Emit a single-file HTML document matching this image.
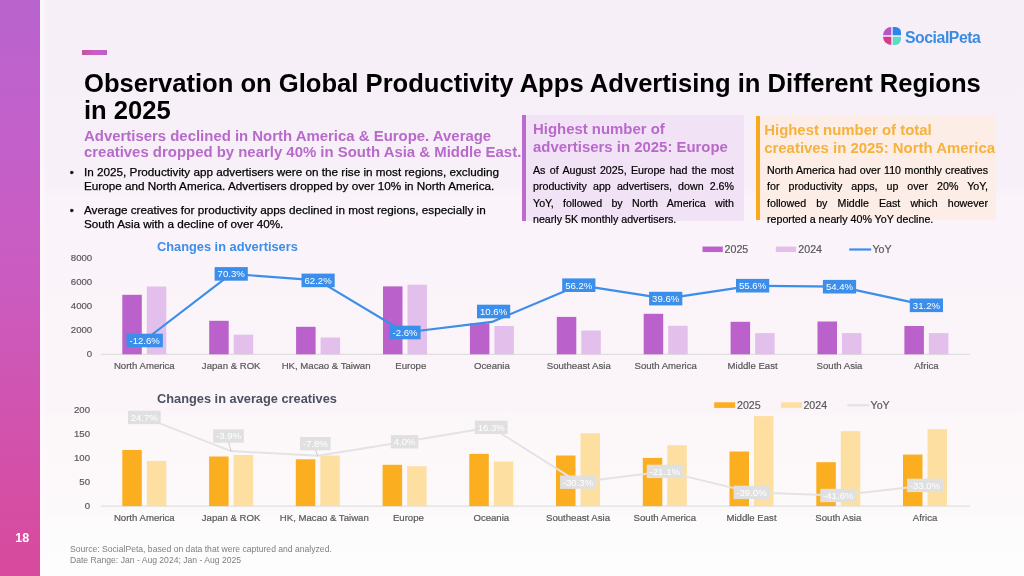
<!DOCTYPE html>
<html><head><meta charset="utf-8"><style>
*{margin:0;padding:0;box-sizing:border-box}
html,body{width:1024px;height:576px;overflow:hidden}
body{position:relative;font-family:"Liberation Sans",sans-serif;background:linear-gradient(180deg,#F6EFF7 0px,#F7F0F8 186px,#FAF3F9 196px,#FBF5F9 410px,#FCF8FA 424px,#FCF9FA 514px,#FDFCFC 526px,#FDFDFD 576px);}
.abs{position:absolute}
#side{left:0;top:0;width:40px;height:576px;background:linear-gradient(180deg,#B963CD 0%,#C261CB 20%,#CB5BC0 50%,#D153AE 72%,#D84A9C 100%)}
#strip{left:40px;top:0;width:7px;height:576px;background:linear-gradient(90deg,rgba(255,250,255,0.9),rgba(255,250,255,0))}
#pg{left:2.2px;width:40px;top:529.6px;text-align:center;color:#fff;font-weight:bold;font-size:12.5px;line-height:17px}
#accent{left:82.2px;top:49.7px;width:25.2px;height:5.2px;background:linear-gradient(90deg,#C6539F,#CC5AC6 50%,#BD5FC6)}
#title{left:84px;top:69.8px;width:920px;font-weight:bold;font-size:25.6px;line-height:27.5px;color:#000}
#sub{left:84px;top:128px;width:450px;font-weight:bold;font-size:14.93px;line-height:16px;color:#B86ACB}
.bul{-webkit-text-stroke:0.25px #000;left:84px;width:420px;font-size:11.73px;line-height:14.2px;color:#000}
.dot{position:absolute;left:-14.3px;top:0.2px}
.box{position:absolute}
.bt{font-weight:bold;font-size:14.93px;line-height:18px}
.bb{-webkit-text-stroke:0.2px #000;font-size:10.67px;line-height:16.4px;text-align:justify;color:#000}
#src{left:70px;top:544px;font-size:8.6px;line-height:10.5px;color:#7F7F7F}
svg text{font-family:"Liberation Sans",sans-serif}
.ax{font-size:9.6px;fill:#595959;stroke:#595959;stroke-width:0.2px}
.dl{font-size:9.6px;fill:#fff}
.lg{font-size:10.67px;fill:#595959;stroke:#595959;stroke-width:0.2px}
.ct{font-size:12.8px;font-weight:bold}
</style></head><body>
<div id="wrap" style="position:absolute;left:0;top:0;width:1024px;height:576px;will-change:transform">
<div id="side" class="abs"></div>
<div id="strip" class="abs"></div>
<div id="pg" class="abs">18</div>
<div id="accent" class="abs"></div>
<div class="abs" style="left:883px;top:27px;width:100px;height:20px">
<svg width="18" height="18" viewBox="0 0 18 18" style="position:absolute;left:0.2px;top:0.2px">
<path d="M8.3 0 A8.3 8.3 0 0 0 0 8.3 L8.3 8.3 Z" fill="#B656CB"/>
<path d="M9.7 0 L12.6 0 A5.4 5.4 0 0 1 18 5.4 L18 8.3 L9.7 8.3 Z" fill="#2F84EA"/>
<path d="M0 9.7 A8.3 8.3 0 0 0 8.3 18 L8.3 9.7 Z" fill="#D63D87"/>
<path d="M9.7 9.7 L18 9.7 L18 12.2 A5.8 5.8 0 0 1 12.2 18 L9.7 18 Z" fill="#5ADCC6"/>
</svg>
<div style="position:absolute;left:22px;top:0;font-weight:bold;font-size:15.8px;line-height:21px;color:#3C8BE3;letter-spacing:-0.45px">SocialPeta</div>
</div>
<div id="title" class="abs">Observation on Global Productivity Apps Advertising in Different Regions in 2025</div>
<div id="sub" class="abs">Advertisers declined in North America &amp; Europe. Average creatives dropped by nearly 40% in South Asia &amp; Middle East.</div>
<div class="abs bul" style="top:164.6px"><span class="dot">•</span>In 2025, Productivity app advertisers were on the rise in most regions, excluding Europe and North America. Advertisers dropped by over 10% in North America.</div>
<div class="abs bul" style="top:203px"><span class="dot">•</span>Average creatives for productivity apps declined in most regions, especially in South Asia with a decline of over 40%.</div>

<div class="box" style="left:522px;top:115px;width:222px;height:105.5px;background:#F2E2F5;border-left:4px solid #BB6ACE"></div>
<div class="box" style="left:533px;top:120px;width:201px">
<div class="bt" style="color:#B86ACB">Highest number of advertisers in 2025: Europe</div>
<div class="bb" style="margin-top:6px">As of August 2025, Europe had the most productivity app advertisers, down 2.6% YoY, followed by North America with nearly 5K monthly advertisers.</div>
</div>

<div class="box" style="left:756px;top:115.5px;width:240px;height:104px;background:#FCEDE6;border-left:4px solid #F9A91C"></div>
<div class="box" style="left:767px;top:121px;width:221px">
<div class="bt" style="color:#F6B23C;white-space:nowrap;margin-left:-2.8px">Highest number of total<br>creatives in 2025: North America</div>
<div class="bb" style="margin-top:5px">North America had over 110 monthly creatives for productivity apps, up over 20% YoY, followed by Middle East which however reported a nearly 40% YoY decline.</div>
</div>

<svg class="abs" style="left:0;top:0" width="1024" height="576" viewBox="0 0 1024 576">
<line x1="100.8" y1="354.3" x2="970" y2="354.3" stroke="#D9D9D9" stroke-width="1"/>
<line x1="100.8" y1="506.1" x2="970" y2="506.1" stroke="#D9D9D9" stroke-width="1"/>
<text x="92.2" y="357.3" class="ax" text-anchor="end">0</text>
<text x="92.2" y="333.3" class="ax" text-anchor="end">2000</text>
<text x="92.2" y="309.3" class="ax" text-anchor="end">4000</text>
<text x="92.2" y="285.3" class="ax" text-anchor="end">6000</text>
<text x="92.2" y="261.3" class="ax" text-anchor="end">8000</text>
<text x="90" y="509.1" class="ax" text-anchor="end">0</text>
<text x="90" y="485.1" class="ax" text-anchor="end">50</text>
<text x="90" y="461.1" class="ax" text-anchor="end">100</text>
<text x="90" y="437.1" class="ax" text-anchor="end">150</text>
<text x="90" y="413.1" class="ax" text-anchor="end">200</text>
<rect x="122.3" y="294.8" width="19.5" height="59.5" fill="#BA61CC"/>
<rect x="146.8" y="286.5" width="19.5" height="67.8" fill="#E3BFEB"/>
<rect x="122.3" y="450.0" width="19.5" height="56.1" fill="#FBAE1F"/>
<rect x="146.8" y="460.9" width="19.5" height="45.2" fill="#FDDFA2"/>
<text x="144.3" y="369.2" class="ax" text-anchor="middle">North America</text>
<text x="144.3" y="520.8" class="ax" text-anchor="middle">North America</text>
<rect x="209.2" y="320.8" width="19.5" height="33.5" fill="#BA61CC"/>
<rect x="233.7" y="334.7" width="19.5" height="19.6" fill="#E3BFEB"/>
<rect x="209.1" y="456.5" width="19.5" height="49.6" fill="#FBAE1F"/>
<rect x="233.6" y="455.0" width="19.5" height="51.1" fill="#FDDFA2"/>
<text x="231.2" y="369.2" class="ax" text-anchor="middle">Japan &amp; ROK</text>
<text x="231.1" y="520.8" class="ax" text-anchor="middle">Japan &amp; ROK</text>
<rect x="296.1" y="326.8" width="19.5" height="27.5" fill="#BA61CC"/>
<rect x="320.6" y="337.5" width="19.5" height="16.8" fill="#E3BFEB"/>
<rect x="295.8" y="459.3" width="19.5" height="46.8" fill="#FBAE1F"/>
<rect x="320.3" y="455.5" width="19.5" height="50.6" fill="#FDDFA2"/>
<text x="326.1" y="369.2" class="ax" text-anchor="middle">HK, Macao &amp; Taiwan</text>
<text x="324.3" y="520.8" class="ax" text-anchor="middle">HK, Macao &amp; Taiwan</text>
<rect x="383.0" y="286.4" width="19.5" height="67.9" fill="#BA61CC"/>
<rect x="407.5" y="284.7" width="19.5" height="69.6" fill="#E3BFEB"/>
<rect x="382.6" y="464.8" width="19.5" height="41.3" fill="#FBAE1F"/>
<rect x="407.1" y="466.2" width="19.5" height="39.9" fill="#FDDFA2"/>
<text x="410.8" y="369.2" class="ax" text-anchor="middle">Europe</text>
<text x="408.4" y="520.8" class="ax" text-anchor="middle">Europe</text>
<rect x="469.9" y="323.3" width="19.5" height="31.0" fill="#BA61CC"/>
<rect x="494.4" y="326.0" width="19.5" height="28.3" fill="#E3BFEB"/>
<rect x="469.3" y="453.9" width="19.5" height="52.2" fill="#FBAE1F"/>
<rect x="493.8" y="461.5" width="19.5" height="44.6" fill="#FDDFA2"/>
<text x="491.9" y="369.2" class="ax" text-anchor="middle">Oceania</text>
<text x="491.3" y="520.8" class="ax" text-anchor="middle">Oceania</text>
<rect x="556.8" y="316.9" width="19.5" height="37.4" fill="#BA61CC"/>
<rect x="581.3" y="330.5" width="19.5" height="23.8" fill="#E3BFEB"/>
<rect x="556.0" y="455.5" width="19.5" height="50.6" fill="#FBAE1F"/>
<rect x="580.5" y="433.3" width="19.5" height="72.8" fill="#FDDFA2"/>
<text x="578.8" y="369.2" class="ax" text-anchor="middle">Southeast Asia</text>
<text x="578.0" y="520.8" class="ax" text-anchor="middle">Southeast Asia</text>
<rect x="643.7" y="313.8" width="19.5" height="40.5" fill="#BA61CC"/>
<rect x="668.2" y="325.8" width="19.5" height="28.5" fill="#E3BFEB"/>
<rect x="642.8" y="457.9" width="19.5" height="48.2" fill="#FBAE1F"/>
<rect x="667.3" y="445.2" width="19.5" height="60.9" fill="#FDDFA2"/>
<text x="665.7" y="369.2" class="ax" text-anchor="middle">South America</text>
<text x="664.8" y="520.8" class="ax" text-anchor="middle">South America</text>
<rect x="730.6" y="321.8" width="19.5" height="32.5" fill="#BA61CC"/>
<rect x="755.1" y="333.1" width="19.5" height="21.2" fill="#E3BFEB"/>
<rect x="729.5" y="451.5" width="19.5" height="54.6" fill="#FBAE1F"/>
<rect x="754.0" y="416.1" width="19.5" height="90.0" fill="#FDDFA2"/>
<text x="752.6" y="369.2" class="ax" text-anchor="middle">Middle East</text>
<text x="751.5" y="520.8" class="ax" text-anchor="middle">Middle East</text>
<rect x="817.5" y="321.5" width="19.5" height="32.8" fill="#BA61CC"/>
<rect x="842.0" y="333.1" width="19.5" height="21.2" fill="#E3BFEB"/>
<rect x="816.3" y="462.2" width="19.5" height="43.9" fill="#FBAE1F"/>
<rect x="840.8" y="431.1" width="19.5" height="75.0" fill="#FDDFA2"/>
<text x="839.5" y="369.2" class="ax" text-anchor="middle">South Asia</text>
<text x="838.3" y="520.8" class="ax" text-anchor="middle">South Asia</text>
<rect x="904.4" y="326.0" width="19.5" height="28.3" fill="#BA61CC"/>
<rect x="928.9" y="333.1" width="19.5" height="21.2" fill="#E3BFEB"/>
<rect x="903.0" y="454.6" width="19.5" height="51.5" fill="#FBAE1F"/>
<rect x="927.5" y="429.1" width="19.5" height="77.0" fill="#FDDFA2"/>
<text x="926.4" y="369.2" class="ax" text-anchor="middle">Africa</text>
<text x="925.0" y="520.8" class="ax" text-anchor="middle">Africa</text>
<polyline points="144.3,417.4 231.1,451.1 317.8,455.7 404.6,441.8 491.3,427.3 578.0,482.2 664.8,471.4 751.5,492.4 838.3,495.5 925.0,485.4" fill="none" stroke="#E3E3E3" stroke-width="2" stroke-linejoin="round"/>
<polyline points="144.3,340.5 231.2,273.9 318.1,280.4 405.0,332.5 491.9,321.9 578.8,285.2 665.7,298.6 752.6,285.7 839.5,286.7 926.4,305.3" fill="none" stroke="#3B8EEA" stroke-width="2.2" stroke-linejoin="round"/>
<rect x="126.5" y="333.7" width="36.4" height="13.6" fill="#3B8EEA"/>
<text x="144.7" y="343.9" class="dl" text-anchor="middle">-12.6%</text>
<rect x="214.6" y="267.1" width="33.2" height="13.6" fill="#3B8EEA"/>
<text x="231.2" y="277.3" class="dl" text-anchor="middle">70.3%</text>
<rect x="301.5" y="273.6" width="33.2" height="13.6" fill="#3B8EEA"/>
<text x="318.1" y="283.8" class="dl" text-anchor="middle">62.2%</text>
<rect x="389.5" y="325.7" width="31.1" height="13.6" fill="#3B8EEA"/>
<text x="405.0" y="335.9" class="dl" text-anchor="middle">-2.6%</text>
<rect x="477.0" y="304.7" width="33.2" height="13.6" fill="#3B8EEA"/>
<text x="493.6" y="314.9" class="dl" text-anchor="middle">10.6%</text>
<rect x="562.2" y="278.4" width="33.2" height="13.6" fill="#3B8EEA"/>
<text x="578.8" y="288.6" class="dl" text-anchor="middle">56.2%</text>
<rect x="649.1" y="291.8" width="33.2" height="13.6" fill="#3B8EEA"/>
<text x="665.7" y="302.0" class="dl" text-anchor="middle">39.6%</text>
<rect x="736.0" y="278.9" width="33.2" height="13.6" fill="#3B8EEA"/>
<text x="752.6" y="289.1" class="dl" text-anchor="middle">55.6%</text>
<rect x="822.9" y="279.9" width="33.2" height="13.6" fill="#3B8EEA"/>
<text x="839.5" y="290.1" class="dl" text-anchor="middle">54.4%</text>
<rect x="909.8" y="298.5" width="33.2" height="13.6" fill="#3B8EEA"/>
<text x="926.4" y="308.7" class="dl" text-anchor="middle">31.2%</text>
<rect x="128.0" y="410.7" width="32.7" height="13.4" fill="#E0E0E0"/>
<text x="144.3" y="420.8" class="dl" text-anchor="middle">24.7%</text>
<line x1="228.5" y1="442.0" x2="231.1" y2="451.1" stroke="#BFBFBF" stroke-width="0.8"/>
<rect x="213.2" y="429.3" width="30.6" height="13.4" fill="#E0E0E0"/>
<text x="228.5" y="439.4" class="dl" text-anchor="middle">-3.9%</text>
<line x1="315.3" y1="449.7" x2="317.8" y2="455.7" stroke="#BFBFBF" stroke-width="0.8"/>
<rect x="300.0" y="437.0" width="30.6" height="13.4" fill="#E0E0E0"/>
<text x="315.3" y="447.1" class="dl" text-anchor="middle">-7.8%</text>
<rect x="390.9" y="435.1" width="27.4" height="13.4" fill="#E0E0E0"/>
<text x="404.6" y="445.2" class="dl" text-anchor="middle">4.0%</text>
<rect x="474.9" y="420.6" width="32.7" height="13.4" fill="#E0E0E0"/>
<text x="491.3" y="430.7" class="dl" text-anchor="middle">16.3%</text>
<rect x="560.1" y="475.5" width="35.9" height="13.4" fill="#E0E0E0"/>
<text x="578.0" y="485.6" class="dl" text-anchor="middle">-30.3%</text>
<rect x="646.8" y="464.7" width="35.9" height="13.4" fill="#E0E0E0"/>
<text x="664.8" y="474.8" class="dl" text-anchor="middle">-21.1%</text>
<rect x="733.6" y="485.7" width="35.9" height="13.4" fill="#E0E0E0"/>
<text x="751.5" y="495.8" class="dl" text-anchor="middle">-39.0%</text>
<rect x="820.3" y="488.8" width="35.9" height="13.4" fill="#E0E0E0"/>
<text x="838.3" y="498.9" class="dl" text-anchor="middle">-41.6%</text>
<rect x="907.1" y="478.7" width="35.9" height="13.4" fill="#E0E0E0"/>
<text x="925.0" y="488.8" class="dl" text-anchor="middle">-33.0%</text>
<rect x="702.5" y="246.55" width="20.3" height="5.5" fill="#BA61CC"/>
<text x="724.6" y="253.3" class="lg">2025</text>
<rect x="775.8" y="246.55" width="20.3" height="5.5" fill="#E3BFEB"/>
<text x="798.3" y="253.3" class="lg">2024</text>
<line x1="849.2" y1="249.5" x2="871.2" y2="249.5" stroke="#3B8EEA" stroke-width="2.2"/>
<text x="872.4" y="253.3" class="lg">YoY</text>
<rect x="714.2" y="402.3" width="21" height="5.6" fill="#FBAE1F"/>
<text x="737.0" y="409.1" class="lg">2025</text>
<rect x="781.0" y="402.3" width="21" height="5.6" fill="#FDDFA2"/>
<text x="803.4" y="409.1" class="lg">2024</text>
<line x1="847.3" y1="405.3" x2="869.3" y2="405.3" stroke="#E3E3E3" stroke-width="2.2"/>
<text x="870.5" y="409.1" class="lg">YoY</text>
<text x="157" y="250.6" class="ct" fill="#3D8EE6">Changes in advertisers</text>
<text x="157" y="402.5" class="ct" fill="#4D5060">Changes in average creatives</text>
</svg>
<div id="src" class="abs">Source: SocialPeta, based on data that were captured and analyzed.<br>Date Range: Jan - Aug 2024; Jan - Aug 2025</div>
</div>
</body></html>
